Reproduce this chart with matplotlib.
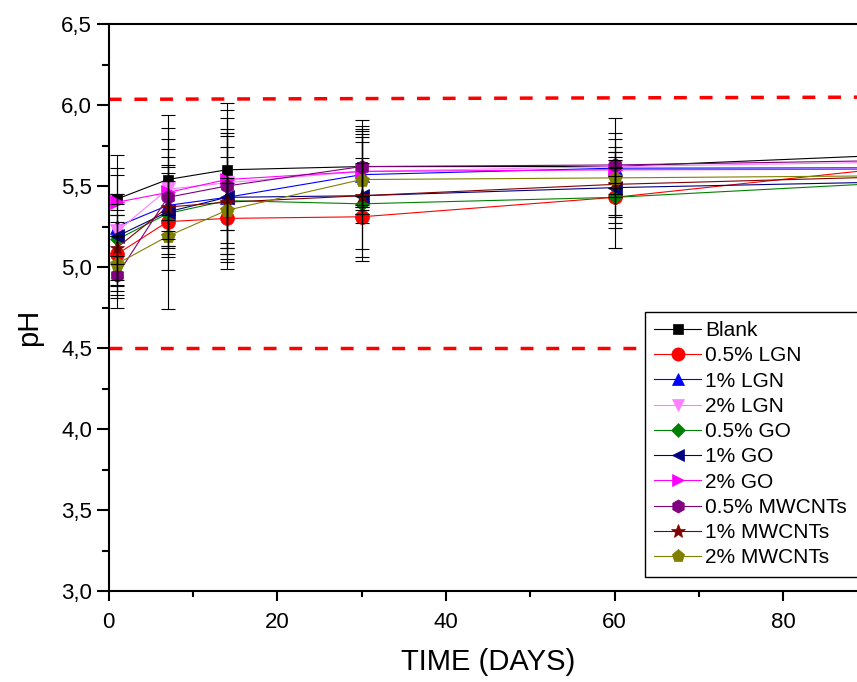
import matplotlib
matplotlib.use("Agg")
import matplotlib.pyplot as plt
from matplotlib.ticker import MultipleLocator, FixedLocator, FuncFormatter

# ---------------- data ----------------
days = [1, 7, 14, 30, 60, 90]

series_names = ["Blank", "0.5% LGN", "1% LGN", "2% LGN", "0.5% GO", "1% GO",
                "2% GO", "0.5% MWCNTs", "1% MWCNTs", "2% MWCNTs"]

blank    = [5.42, 5.54, 5.60, 5.62, 5.62, 5.685]
lgn_05   = [5.08, 5.28, 5.30, 5.31, 5.43, 5.597]
lgn_1    = [5.25, 5.38, 5.43, 5.57, 5.61, 5.612]
lgn_2    = [5.22, 5.48, 5.52, 5.59, 5.62, 5.645]
go_05    = [5.17, 5.33, 5.41, 5.39, 5.43, 5.512]
go_1     = [5.19, 5.34, 5.43, 5.44, 5.49, 5.522]
go_2     = [5.40, 5.46, 5.54, 5.59, 5.60, 5.603]
mw_05    = [4.95, 5.43, 5.50, 5.62, 5.63, 5.655]
mw_1     = [5.12, 5.37, 5.40, 5.44, 5.51, 5.553]
mw_2     = [5.02, 5.19, 5.35, 5.54, 5.55, 5.562]

blank_err  = [0.03, 0.32, 0.37, 0.29, 0.30, 0.0]
lgn_05_err = [0.20, 0.30, 0.22, 0.04, 0.31, 0.0]
lgn_1_err  = [0.36, 0.30, 0.40, 0.20, 0.05, 0.0]
lgn_2_err  = [0.47, 0.31, 0.40, 0.26, 0.17, 0.0]
go_05_err  = [0.15, 0.20, 0.33, 0.28, 0.19, 0.0]
go_1_err   = [0.38, 0.60, 0.38, 0.40, 0.22, 0.0]
go_2_err   = [0.05, 0.17, 0.31, 0.21, 0.08, 0.0]
mw_05_err  = [0.12, 0.30, 0.51, 0.25, 0.20, 0.0]
mw_1_err   = [0.20, 0.25, 0.28, 0.38, 0.20, 0.0]
mw_2_err   = [0.17, 0.13, 0.20, 0.10, 0.06, 0.0]

limit_upper_x = [0, 100]
limit_upper_y = [6.035, 6.05]
limit_lower_x = [0, 100]
limit_lower_y = [4.50, 4.50]

x_ticks = [0, 20, 40, 60, 80]
x_minor_ticks = [10, 30, 50, 70]

values = [blank, lgn_05, lgn_1, lgn_2, go_05, go_1, go_2, mw_05, mw_1, mw_2]
errors = [blank_err, lgn_05_err, lgn_1_err, lgn_2_err, go_05_err, go_1_err,
          go_2_err, mw_05_err, mw_1_err, mw_2_err]

# ---------------- style ----------------
colors = ["#000000", "#FF0000", "#0000FF", "#FF80FF", "#008000", "#000080",
          "#FF00FF", "#800080", "#800000", "#808000"]
markers = ["s", "o", "^", "v", "D", "<", ">", "h", "*", "p"]
msizes = [7.5, 10, 9.5, 9.5, 7, 9.5, 9.5, 10, 11, 10]

plt.rcParams['font.family'] = ['Liberation Sans', 'DejaVu Sans']

fig = plt.figure(figsize=(8.57, 6.82), dpi=100)
W, H = 857, 682
ax = fig.add_axes([108.7 / W, (H - 591) / H, 843.3 / W, 567 / H])

for name, v, e, c, m, ms in zip(series_names, values, errors, colors, markers, msizes):
    ax.plot(days, v, color=c, lw=0.8, marker=m, markersize=ms,
            markerfacecolor=c, markeredgecolor=c, markeredgewidth=0.5,
            label=name, zorder=3)
    ax.errorbar(days, v, yerr=e, fmt='none', ecolor='black', elinewidth=0.8,
                capsize=5, capthick=0.8, zorder=4)

ax.plot(limit_upper_x, limit_upper_y, color='red', lw=2.5, dashes=(3.7, 3.7), zorder=2)
ax.plot(limit_lower_x, limit_lower_y, color='red', lw=2.5, dashes=(3.7, 3.7), zorder=2)

ax.set_xlim(0, 100)
ax.set_ylim(3.0, 6.5)
ax.xaxis.set_major_locator(FixedLocator(x_ticks))
ax.xaxis.set_minor_locator(FixedLocator(x_minor_ticks))
ax.yaxis.set_major_locator(MultipleLocator(0.5))
ax.yaxis.set_minor_locator(MultipleLocator(0.25))
ax.yaxis.set_major_formatter(FuncFormatter(lambda v, p: f"{v:.1f}".replace(".", ",")))

for s in ax.spines.values():
    s.set_linewidth(1.5)

ax.tick_params(axis='y', which='major', direction='out', length=9, width=1.5,
               labelsize=16, pad=3, right=False)
ax.tick_params(axis='y', which='minor', direction='out', length=5, width=1.5, right=False)
ax.tick_params(axis='x', which='major', direction='out', length=7, width=1.5,
               labelsize=16, pad=8, top=False)
ax.tick_params(axis='x', which='minor', direction='out', length=4, width=1.5, top=False)

ax.set_xlabel("TIME (DAYS)", fontsize=21)
ax.xaxis.set_label_coords((488.5 - 108.7) / 843.3, -(648 - 591) / 567)
ax.set_ylabel("pH", fontsize=21)
ax.yaxis.set_label_coords(-(108.7 - 43) / 843.3, (591 - 327) / 567)

leg = ax.legend(loc='upper left',
                bbox_to_anchor=(645 / W, 1 - 581 / H, 240 / W, 269.3 / H),
                bbox_transform=fig.transFigure, mode='expand', borderaxespad=0,
                fontsize=15, frameon=True, fancybox=False, framealpha=1,
                edgecolor='black', handlelength=2.25, handletextpad=0.2,
                labelspacing=0.3, borderpad=0.45, markerscale=0.95)
leg.get_frame().set_linewidth(1.0)
leg.set_zorder(10)

fig.savefig("out.png", dpi=100)
